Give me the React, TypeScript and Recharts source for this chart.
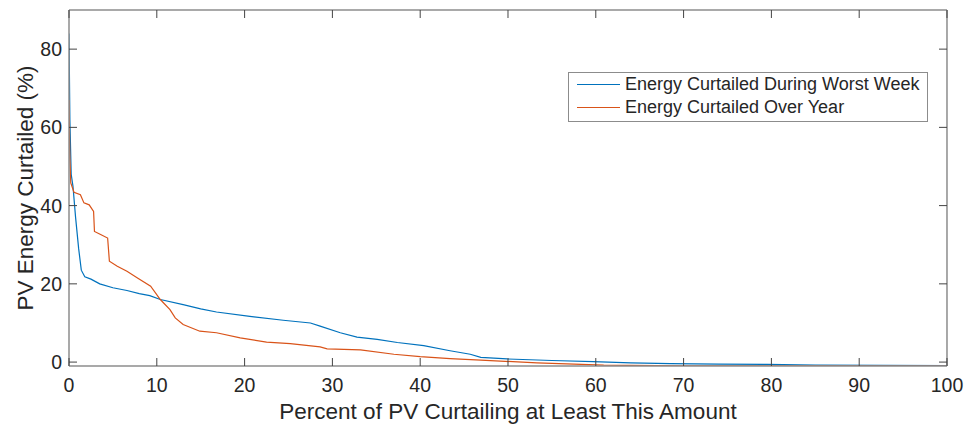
import React from 'react';
import { LineChart, Line, XAxis, YAxis, Legend, Label } from 'recharts';

// percent of PV curtailing at least this amount (x) vs energy curtailed (y)
const weekPct = [0, 0.1, 0.25, 0.45, 0.75, 1.1, 1.4, 1.8, 2.5, 3.5, 5, 6.6, 8, 9.2, 10.4, 13, 15, 16.8, 20.6, 24.4, 27.5, 28.6, 30.9, 32.8, 35.1, 37.4, 40.4, 43.4, 45.7, 46.9, 49.9, 55, 59.7, 64, 68.5, 74, 79.5, 85, 100];
const weekCurtailed = [84, 62, 48, 45, 37, 29, 23.5, 21.8, 21.2, 20, 19, 18.3, 17.5, 17, 16, 14.7, 13.6, 12.8, 11.7, 10.7, 10, 9.2, 7.5, 6.4, 5.8, 5, 4.2, 2.9, 2.0, 1.2, 0.8, 0.4, 0.1, -0.2, -0.4, -0.5, -0.6, -0.8, -0.9];

const yearPct = [0, 0.05, 0.1, 0.2, 0.57, 1.3, 1.7, 2.3, 2.8, 2.9, 3.6, 4.4, 4.6, 5.5, 6.6, 7.8, 9.3, 10.4, 11.5, 12.1, 13, 14.9, 16.8, 19.5, 22.5, 25.2, 28.6, 29.4, 33.2, 37, 40, 43.4, 46.9, 53.3, 60.9, 70, 100];
const yearCurtailed = [67, 60, 52, 45.8, 43.4, 42.8, 40.7, 40.2, 38.5, 33.4, 32.6, 31.7, 25.8, 24.5, 23.2, 21.5, 19.4, 16, 13.4, 11.3, 9.6, 7.9, 7.5, 6.2, 5.1, 4.7, 3.9, 3.4, 3.1, 2.0, 1.4, 0.9, 0.5, -0.2, -0.8, -0.95, -1];

const xTicks = [0, 10, 20, 30, 40, 50, 60, 70, 80, 90, 100];
const yTicks = [0, 20, 40, 60, 80];

const WEEK_COLOR = '#0072BD';
const YEAR_COLOR = '#D95319';
const AXIS_COLOR = '#8c8c8c';
const TICK_COLOR = '#444444';
const TEXT_COLOR = '#262626';
const FONT = '"Liberation Sans", Arial, Helvetica, sans-serif';
const TICK_LEN = 8;

const WIDTH = 967;
const HEIGHT = 430;
const MARGIN = { top: 10, right: 20, bottom: 0, left: 0 };
const PLOT_TOP = MARGIN.top;
const PLOT_RIGHT = WIDTH - MARGIN.right;

const weekData = weekPct.map((x, i) => ({ x, y: weekCurtailed[i] }));
const yearData = yearPct.map((x, i) => ({ x, y: yearCurtailed[i] }));

// MATLAB style: ticks point into the box, on all four sides
const BottomTick = (props: any) => {
  const { x, y, payload } = props;
  return (
    <g>
      <line x1={x} x2={x} y1={y} y2={y - TICK_LEN} stroke={TICK_COLOR} strokeWidth={1} />
      <line x1={x} x2={x} y1={PLOT_TOP} y2={PLOT_TOP + TICK_LEN} stroke={TICK_COLOR} strokeWidth={1} />
      <text x={x} y={y} dy={26} textAnchor="middle" fill={TEXT_COLOR} fontSize={19.5} fontFamily={FONT}>
        {payload.value}
      </text>
    </g>
  );
};

const LeftTick = (props: any) => {
  const { x, y, payload } = props;
  return (
    <g>
      <line x1={x} x2={x + TICK_LEN} y1={y} y2={y} stroke={TICK_COLOR} strokeWidth={1} />
      <line x1={PLOT_RIGHT} x2={PLOT_RIGHT - TICK_LEN} y1={y} y2={y} stroke={TICK_COLOR} strokeWidth={1} />
      <text x={x - 7} y={y} dy={7} textAnchor="end" fill={TEXT_COLOR} fontSize={19.5} fontFamily={FONT}>
        {payload.value}
      </text>
    </g>
  );
};

const renderLegend = (props: any) => {
  const { payload } = props;
  return (
    <div
      style={{
        border: `1.5px solid ${AXIS_COLOR}`,
        background: '#fff',
        width: 360,
        height: 50,
        boxSizing: 'border-box',
        padding: '0 0 0 8px',
        fontFamily: FONT,
        fontSize: 18,
        color: TEXT_COLOR,
        lineHeight: '23px',
      }}
    >
      {(payload || []).map((entry: any) => (
        <div key={entry.value} style={{ display: 'flex', alignItems: 'center' }}>
          <span
            style={{
              display: 'inline-block',
              width: 43,
              height: 0,
              borderTop: `1.5px solid ${entry.color}`,
              marginRight: 5,
            }}
          />
          <span>{entry.value}</span>
        </div>
      ))}
    </div>
  );
};

const App: React.FC = () => {
  return (
    <div style={{ position: 'absolute', left: 0, top: 0, background: '#fff' }}>
      <LineChart width={WIDTH} height={HEIGHT} margin={MARGIN}>
        <XAxis
          xAxisId="top"
          orientation="top"
          type="number"
          domain={[0, 100]}
          height={0.01}
          stroke={AXIS_COLOR}
          strokeWidth={1.5}
          tick={false}
          tickLine={false}
        />
        <YAxis
          yAxisId="right"
          orientation="right"
          type="number"
          domain={[-1, 90]}
          width={0.01}
          stroke={AXIS_COLOR}
          strokeWidth={1.5}
          tick={false}
          tickLine={false}
        />
        <XAxis
          dataKey="x"
          type="number"
          domain={[0, 100]}
          ticks={xTicks}
          height={64}
          stroke={AXIS_COLOR}
          strokeWidth={1.5}
          tickSize={0}
          tickMargin={0}
          tickLine={false}
          tick={BottomTick}
          interval={0}
          allowDataOverflow
        >
          <Label
            value="Percent of PV Curtailing at Least This Amount"
            position="insideBottom"
            offset={11}
            style={{ fill: TEXT_COLOR, fontSize: 22.5, fontFamily: FONT }}
          />
        </XAxis>
        <YAxis
          type="number"
          domain={[-1, 90]}
          ticks={yTicks}
          width={69}
          stroke={AXIS_COLOR}
          strokeWidth={1.5}
          tickSize={0}
          tickMargin={0}
          tickLine={false}
          tick={LeftTick}
          interval={0}
          allowDataOverflow
        >
          <Label
            content={() => (
              <text
                x={25}
                y={188}
                transform="rotate(-90 25 188)"
                textAnchor="middle"
                dominantBaseline="central"
                fill={TEXT_COLOR}
                fontSize={22.5}
                fontFamily={FONT}
              >
                PV Energy Curtailed (%)
              </text>
            )}
          />
        </YAxis>
        <Legend
          layout="horizontal"
          verticalAlign="middle"
          align="center"
          content={renderLegend}
          wrapperStyle={{ left: 568, top: 72, width: 360, height: 50 }}
        />
        <Line
          data={weekData}
          dataKey="y"
          name="Energy Curtailed During Worst Week"
          type="linear"
          stroke={WEEK_COLOR}
          strokeWidth={1.2}
          dot={false}
          isAnimationActive={false}
        />
        <Line
          data={yearData}
          dataKey="y"
          name="Energy Curtailed Over Year"
          type="linear"
          stroke={YEAR_COLOR}
          strokeWidth={1.2}
          dot={false}
          isAnimationActive={false}
        />
      </LineChart>
    </div>
  );
};

export default App;
